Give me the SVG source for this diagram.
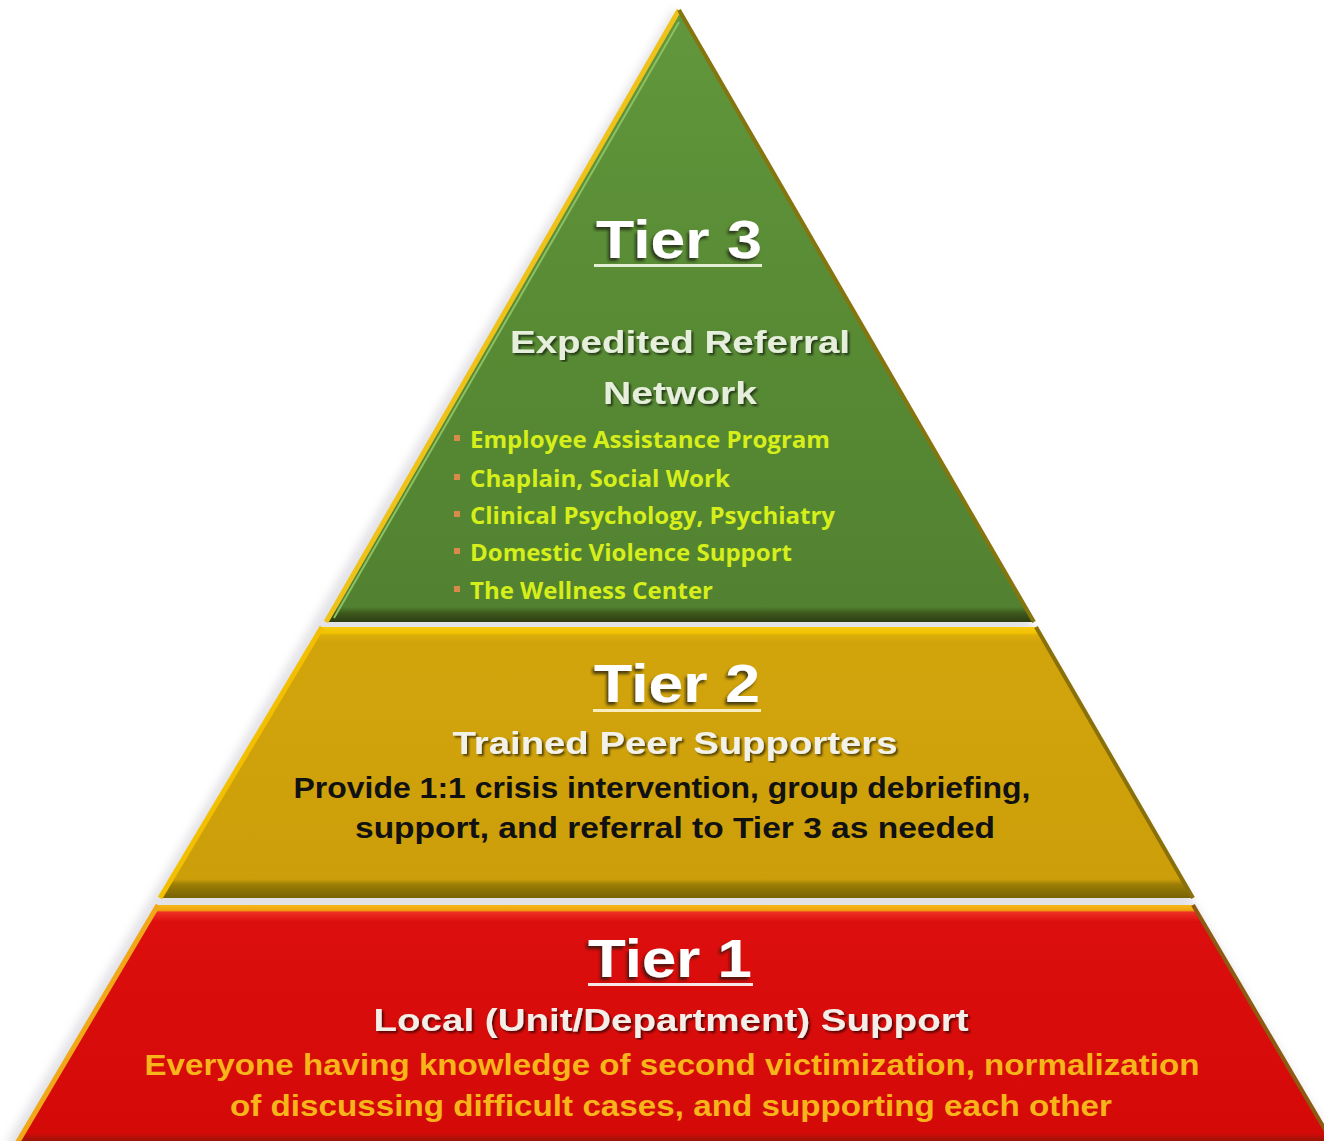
<svg xmlns="http://www.w3.org/2000/svg" width="1324" height="1141" viewBox="0 0 1324 1141">
  <defs>
    <style>
      .title { font-family: "Liberation Sans", Arial, sans-serif; font-weight: bold; font-size: 54px; fill: #FFFFFF; }
      .sub { font-family: "Liberation Sans", Arial, sans-serif; font-weight: bold; font-size: 31px; }
      .body { font-family: "Liberation Sans", Arial, sans-serif; font-weight: bold; font-size: 29px; }
      .item { font-family: "Open Sans", "Liberation Sans", sans-serif; font-weight: bold; font-size: 24px; fill: #D6EF1A; }
      .dot { fill: #D98A4A; }
    </style>
    <linearGradient id="fillT3" x1="0" y1="0" x2="0" y2="1">
      <stop offset="0" stop-color="#62973D"/>
      <stop offset="0.5" stop-color="#588B34"/>
      <stop offset="0.975" stop-color="#528231"/>
      <stop offset="0.985" stop-color="#3E5A1C"/>
      <stop offset="1" stop-color="#2E3C12"/>
    </linearGradient>
    <linearGradient id="fillT2" x1="0" y1="0" x2="0" y2="1">
      <stop offset="0" stop-color="#F7CB10"/>
      <stop offset="0.022" stop-color="#F2C200"/>
      <stop offset="0.03" stop-color="#DCAE0A"/>
      <stop offset="0.055" stop-color="#D2A40C"/>
      <stop offset="0.93" stop-color="#CC9F0A"/>
      <stop offset="0.95" stop-color="#9C7E06"/>
      <stop offset="1" stop-color="#776204"/>
    </linearGradient>
    <linearGradient id="fillT1" x1="0" y1="0" x2="0" y2="1">
      <stop offset="0" stop-color="#F7B818"/>
      <stop offset="0.022" stop-color="#F0A410"/>
      <stop offset="0.03" stop-color="#EE3024"/>
      <stop offset="0.07" stop-color="#DC0E0E"/>
      <stop offset="0.95" stop-color="#D40A08"/>
      <stop offset="0.975" stop-color="#A81208"/>
      <stop offset="1" stop-color="#7A1A06"/>
    </linearGradient>
    <filter id="shadow" x="-10%" y="-30%" width="120%" height="160%">
      <feDropShadow dx="-2" dy="3" stdDeviation="1.5" flood-color="#1a1a0a" flood-opacity="0.75"/>
    </filter>
    <filter id="soft" x="-5%" y="-5%" width="110%" height="110%">
      <feDropShadow dx="2" dy="2" stdDeviation="1.2" flood-color="#000" flood-opacity="0.6"/>
    </filter>
    <filter id="halo" x="-10%" y="-10%" width="120%" height="120%">
      <feGaussianBlur stdDeviation="4"/>
    </filter>
  </defs>

  <rect width="1324" height="1141" fill="#FFFFFF"/>

  <!-- faint halo behind the pyramid outline -->
  <polygon points="679,8 10,1145 1340,1145" fill="#C8C8D0" opacity="0.5" transform="translate(-5,0)" filter="url(#halo)"/>

  <!-- Tier 3: apex triangle -->
  <g id="tier3">
    <polygon points="679,10 326,622 1034,622" fill="url(#fillT3)"/>
    <line x1="679" y1="10" x2="326" y2="622" stroke="#EFC21A" stroke-width="5"/>
    <line x1="679" y1="22" x2="334" y2="618" stroke="#8DC063" stroke-width="2"/>
    <line x1="679" y1="10" x2="1034" y2="622" stroke="#85750F" stroke-width="4"/>
    <text class="title" x="679" y="258" text-anchor="middle" textLength="166" lengthAdjust="spacingAndGlyphs" fill="#F2F8EC" filter="url(#shadow)">Tier 3</text>
    <rect x="594" y="264" width="168" height="3" fill="#E4EED4"/>
    <text class="sub" x="680" y="353" text-anchor="middle" textLength="340" lengthAdjust="spacingAndGlyphs" fill="#E6EEDC" filter="url(#soft)">Expedited  Referral</text>
    <text class="sub" x="680" y="404" text-anchor="middle" textLength="154" lengthAdjust="spacingAndGlyphs" fill="#E6EEDC" filter="url(#soft)">Network</text>
    <rect class="dot" x="454" y="435" width="6" height="6"/>
    <text class="item" x="470" y="448" textLength="360" lengthAdjust="spacingAndGlyphs">Employee Assistance Program</text>
    <rect class="dot" x="454" y="474" width="6" height="6"/>
    <text class="item" x="470" y="487" textLength="260" lengthAdjust="spacingAndGlyphs">Chaplain, Social Work</text>
    <rect class="dot" x="454" y="511" width="6" height="6"/>
    <text class="item" x="470" y="524" textLength="365" lengthAdjust="spacingAndGlyphs">Clinical Psychology, Psychiatry</text>
    <rect class="dot" x="454" y="548" width="6" height="6"/>
    <text class="item" x="470" y="561" textLength="322" lengthAdjust="spacingAndGlyphs">Domestic Violence  Support</text>
    <rect class="dot" x="454" y="586" width="6" height="6"/>
    <text class="item" x="470" y="599" textLength="243" lengthAdjust="spacingAndGlyphs">The Wellness Center</text>
  </g>

  <!-- Tier 2: middle band -->
  <g id="tier2">
    <polygon points="322,627 1036,627 1193,898 160,898" fill="url(#fillT2)"/>
    <line x1="322" y1="627" x2="160" y2="898" stroke="#F2C000" stroke-width="5"/>
    <line x1="1036" y1="627" x2="1193" y2="898" stroke="#8A7008" stroke-width="4"/>
    <text class="title" x="677" y="702" text-anchor="middle" textLength="166" lengthAdjust="spacingAndGlyphs" filter="url(#shadow)">Tier 2</text>
    <rect x="593" y="709" width="168" height="3" fill="#F8EEC0"/>
    <text class="sub" x="675" y="754" text-anchor="middle" textLength="445" lengthAdjust="spacingAndGlyphs" fill="#F2F2EA" filter="url(#soft)">Trained  Peer  Supporters</text>
    <text class="body" x="662" y="798" text-anchor="middle" textLength="737" lengthAdjust="spacingAndGlyphs" fill="#111111">Provide 1:1 crisis intervention, group debriefing,</text>
    <text class="body" x="675" y="838" text-anchor="middle" textLength="640" lengthAdjust="spacingAndGlyphs" fill="#111111">support, and referral to Tier 3 as needed</text>
  </g>

  <!-- Tier 1: base band -->
  <g id="tier1">
    <polygon points="158,905 1193,905 1334,1145 16,1145" fill="url(#fillT1)"/>
    <line x1="158" y1="905" x2="16" y2="1145" stroke="#F0A818" stroke-width="5"/>
    <line x1="1193" y1="905" x2="1334" y2="1145" stroke="#8E5A12" stroke-width="4"/>
    <text class="title" x="670" y="977" text-anchor="middle" textLength="164" lengthAdjust="spacingAndGlyphs" filter="url(#shadow)">Tier 1</text>
    <rect x="588" y="983" width="165" height="3" fill="#F6E6E6"/>
    <text class="sub" x="671" y="1031" text-anchor="middle" textLength="595" lengthAdjust="spacingAndGlyphs" fill="#F4EEE8" filter="url(#soft)">Local  (Unit/Department)  Support</text>
    <text class="body" x="672" y="1075" text-anchor="middle" textLength="1055" lengthAdjust="spacingAndGlyphs" fill="#F7B51A" style="font-size:30px">Everyone having knowledge of second victimization, normalization</text>
    <text class="body" x="671" y="1116" text-anchor="middle" textLength="882" lengthAdjust="spacingAndGlyphs" fill="#F7B51A" style="font-size:30px">of discussing difficult cases, and supporting each other</text>
  </g>
</svg>
